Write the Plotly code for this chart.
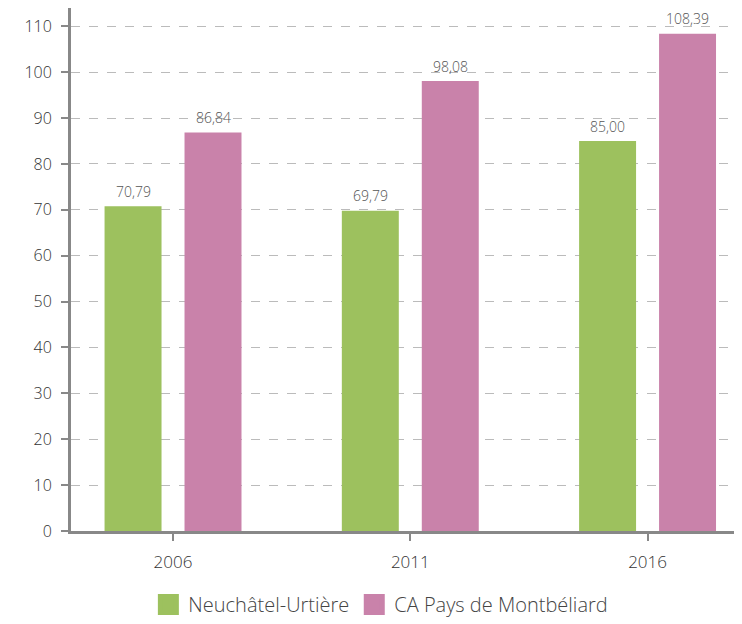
import plotly.graph_objects as go

years = ["2006", "2011", "2016"]
neuchatel = [70.79, 69.79, 85.00]
montbeliard = [86.84, 98.08, 108.39]
series_names = ["Neuchâtel-Urtière", "CA Pays de Montbéliard"]
colors = ["#9dc15e", "#c982aa"]
y_ticks = list(range(0, 111, 10))

FONT = "Open Sans"
LABEL_SHIFT = [-40, 40]

def fmt(v):
    return f"{v:.2f}".replace(".", ",")

x_idx = list(range(len(years)))
fig = go.Figure()
for k, (name, vals, col) in enumerate(zip(series_names, [neuchatel, montbeliard], colors)):
    fig.add_trace(go.Bar(
        x=x_idx, y=vals, name=name, marker_color=col, marker_line_width=0,
        showlegend=False,
    ))
    # legend swatch
    fig.add_trace(go.Scatter(
        x=[None], y=[None], mode="markers", name=name,
        marker=dict(symbol="square", size=16, color=col, line=dict(color=col, width=5)),
    ))
    for xi, v in zip(x_idx, vals):
        fig.add_annotation(
            x=xi, y=v, text=fmt(v), showarrow=False,
            xshift=LABEL_SHIFT[k], yshift=15, yanchor="middle",
            font=dict(size=14, color="#555555", family=FONT, weight=300),
        )

fig.update_layout(
    width=734, height=616,
    margin=dict(l=63, r=0, t=0, b=93),
    plot_bgcolor="white", paper_bgcolor="white",
    barmode="group", bargap=0.326, bargroupgap=0.2875,
    font=dict(family=FONT, color="#333333", weight=300),
    showlegend=True,
    legend=dict(orientation="h", xref="container", yref="container",
                x=0.508, xanchor="center", y=-0.012, yanchor="bottom",
                font=dict(size=20, color="#444444", weight=300), traceorder="normal"),
    xaxis=dict(
        tickmode="array", tickvals=x_idx, ticktext=years,
        range=[-0.43, 2.398], showgrid=False,
        showline=True, linecolor="#888888", linewidth=3,
        ticks="outside", ticklen=7, tickwidth=2, tickcolor="#888888",
        ticklabelstandoff=7,
        tickfont=dict(size=17, color="#333333", weight=300),
    ),
    yaxis=dict(
        range=[0, 114], tickvals=y_ticks,
        showgrid=True, gridcolor="#bbbbbb", griddash="dash", gridwidth=1,
        showline=True, linecolor="#888888", linewidth=3,
        ticks="outside", ticklen=7, tickwidth=2, tickcolor="#888888",
        ticklabelstandoff=6,
        tickfont=dict(size=16, color="#333333", weight=300),
        zeroline=False,
    ),
)

fig.write_html("out.html")
